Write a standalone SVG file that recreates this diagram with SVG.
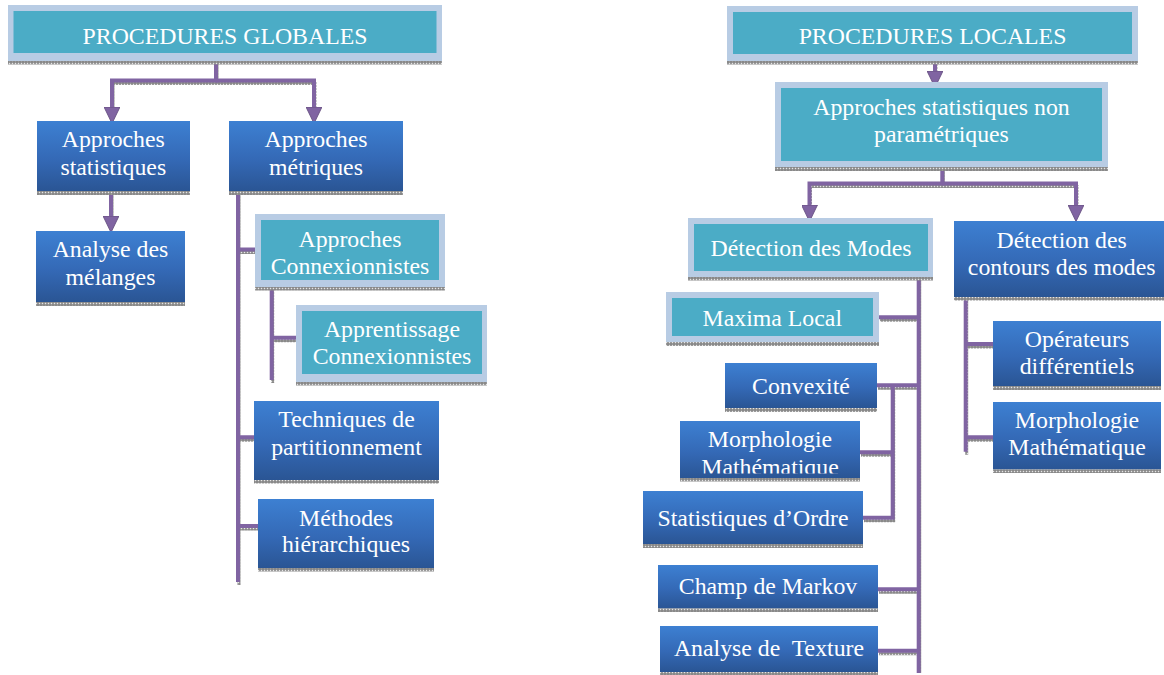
<svg xmlns="http://www.w3.org/2000/svg" width="1164" height="675" viewBox="0 0 1164 675">
<defs>
<linearGradient id="blue" x1="0" y1="0" x2="0" y2="1">
<stop offset="0" stop-color="#3d80d2"/>
<stop offset="0.55" stop-color="#3469b6"/>
<stop offset="1" stop-color="#2a5594"/>
</linearGradient>
<pattern id="hatch" width="3" height="3" patternUnits="userSpaceOnUse">
<rect width="3" height="3" fill="#9a9a9a"/>
<rect width="1" height="1" fill="#e6e6e6"/>
<rect x="1.5" y="1.5" width="1" height="1" fill="#555"/>
</pattern>
<marker id="arr" markerUnits="userSpaceOnUse" markerWidth="17" markerHeight="16" refX="5" refY="8" orient="auto" viewBox="0 0 17 16">
<path d="M0,0 L16.5,8 L0,16 z" fill="#8064a2" stroke="#5f497a" stroke-width="0.8"/>
</marker>
<clipPath id="clipmm1"><rect x="680" y="421" width="180" height="52.5"/></clipPath>
</defs>
<style>
.border{fill:#b8cce4}
.teal{fill:#4bacc6}
.blue{fill:url(#blue)}
.sh{fill:url(#hatch)}
text{font-family:"Liberation Serif","Times New Roman",serif;font-size:23.8px;fill:#ffffff;text-anchor:middle}
.con{fill:none;stroke:#8064a2;stroke-width:4}
.csh{fill:none;stroke:url(#hatch);stroke-width:3}
</style>

<g id="connectors">
<g class="shadows" transform="translate(1,3)">
<path class="csh" d="M216,61 V80.5 H112 V108 M216,80.5 H314 V108"/>
<path class="csh" d="M111,191 V218"/>
<path class="csh" d="M238,191 V582 M238,249.5 H255 M238,437.3 H254 M238,526 H258"/>
<path class="csh" d="M271.7,287 V380 M271.7,337.7 H296"/>
<path class="csh" d="M935,61 V72"/>
<path class="csh" d="M942.3,167 V183.5 H809.5 V206 M942.3,183.5 H1076 V206"/>
<path class="csh" d="M918.7,277 V670 M879,317.3 H918.7 M877,385.3 H918.7 M878,589.3 H918.7 M878,650.7 H918.7"/>
<path class="csh" d="M860,452.3 H892.7 M863,517.7 H892.7 V385.3"/>
<path class="csh" d="M965.7,297 V451.7 M965.7,344 H993 M965.7,437.3 H993"/>
</g>
<path class="con" d="M216,61 V80.5 H112 V112" marker-end="url(#arr)"/>
<path class="con" d="M216,80.5 H314 V112" marker-end="url(#arr)"/>
<path class="con" d="M111,191 V221" marker-end="url(#arr)"/>
<path class="con" d="M238,191 V582 M238,249.5 H255 M238,437.3 H254 M238,526 H258"/>
<path class="con" d="M271.7,287 V380 M271.7,337.7 H296"/>
<path class="con" d="M935,61 V76" marker-end="url(#arr)"/>
<path class="con" d="M942.3,167 V183.5 H809.5 V210" marker-end="url(#arr)"/>
<path class="con" d="M942.3,183.5 H1076 V210" marker-end="url(#arr)"/>
<path class="con" d="M918.7,277 V673 M879,317.3 H918.7 M877,385.3 H918.7 M878,589.3 H918.7 M878,650.7 H918.7"/>
<path class="con" d="M860,452.3 H892.7 M863,517.7 H892.7 V385.3"/>
<path class="con" d="M965.7,297 V451.7 M965.7,344 H993 M965.7,437.3 H993"/>
</g>

<g id="procedures-globales">
<rect class="border" x="8" y="5" width="434" height="56"/>
<rect class="teal" x="13.5" y="11" width="423" height="42"/>
<rect class="sh" x="8" y="61" width="434" height="3.5"/>
<text x="225" y="43.5">PROCEDURES GLOBALES</text>
</g>

<g id="approches-statistiques">
<rect class="blue" x="37" y="121" width="153" height="70"/>
<rect class="sh" x="37" y="191" width="153" height="4"/>
<text x="113.3" y="146.7">Approches</text>
<text x="113.3" y="174.5">statistiques</text>
</g>

<g id="approches-metriques">
<rect class="blue" x="229" y="121" width="174" height="70"/>
<rect class="sh" x="229" y="191" width="174" height="4"/>
<text x="316" y="146.7">Approches</text>
<text x="316" y="174.5">métriques</text>
</g>

<g id="analyse-melanges">
<rect class="blue" x="36" y="231" width="149" height="71"/>
<rect class="sh" x="36" y="302" width="149" height="4"/>
<text x="110.5" y="257.3">Analyse des</text>
<text x="110.5" y="285">mélanges</text>
</g>

<g id="approches-connexionnistes">
<rect class="border" x="255" y="214" width="190" height="73"/>
<rect class="teal" x="261" y="220" width="178" height="60"/>
<rect class="sh" x="255" y="287" width="190" height="3.5"/>
<text x="350" y="246.7">Approches</text>
<text x="350" y="273.5">Connexionnistes</text>
</g>

<g id="apprentissage-connexionnistes">
<rect class="border" x="296" y="305" width="191" height="77"/>
<rect class="teal" x="302" y="311" width="180" height="63"/>
<rect class="sh" x="296" y="382" width="191" height="3.5"/>
<text x="392" y="336.7">Apprentissage</text>
<text x="392" y="363.5">Connexionnistes</text>
</g>

<g id="techniques-partitionnement">
<rect class="blue" x="254" y="401" width="185" height="79"/>
<rect class="sh" x="254" y="480" width="185" height="3.5"/>
<text x="346.5" y="427.3">Techniques de</text>
<text x="346.5" y="455">partitionnement</text>
</g>

<g id="methodes-hierarchiques">
<rect class="blue" x="258" y="499" width="176" height="69"/>
<rect class="sh" x="258" y="568" width="176" height="3.5"/>
<text x="346" y="525.7">Méthodes</text>
<text x="346" y="552">hiérarchiques</text>
</g>

<g id="procedures-locales">
<rect class="border" x="727" y="6" width="411" height="55"/>
<rect class="teal" x="733" y="12" width="399" height="42"/>
<rect class="sh" x="727" y="61" width="411" height="3.5"/>
<text x="932.5" y="43.5">PROCEDURES LOCALES</text>
</g>

<g id="approches-non-parametriques">
<rect class="border" x="775" y="82" width="333" height="85"/>
<rect class="teal" x="781" y="88" width="321" height="73"/>
<rect class="sh" x="775" y="167" width="333" height="4"/>
<text x="941.5" y="115">Approches statistiques non</text>
<text x="941.5" y="141.7">paramétriques</text>
</g>

<g id="detection-modes">
<rect class="border" x="688" y="218" width="245" height="59"/>
<rect class="teal" x="694" y="224" width="234" height="47"/>
<rect class="sh" x="688" y="277" width="245" height="3.5"/>
<text x="811" y="256">Détection des Modes</text>
</g>

<g id="detection-contours">
<rect class="blue" x="954" y="221" width="215" height="76"/>
<rect class="sh" x="954" y="297" width="215" height="3.5"/>
<text x="1061.7" y="248.3">Détection des</text>
<text x="1061.7" y="275">contours des modes</text>
</g>

<g id="maxima-local">
<rect class="border" x="666" y="292" width="213" height="50"/>
<rect class="teal" x="672" y="298" width="201" height="38"/>
<rect class="sh" x="666" y="342" width="213" height="4"/>
<text x="772.3" y="326">Maxima Local</text>
</g>

<g id="convexite">
<rect class="blue" x="725" y="363" width="152" height="45"/>
<rect class="sh" x="725" y="408" width="152" height="4"/>
<text x="801" y="394">Convexité</text>
</g>

<g id="morphologie-1">
<rect class="blue" x="680" y="421" width="180" height="57"/>
<rect class="sh" x="680" y="478" width="180" height="3.5"/>
<g clip-path="url(#clipmm1)">
<text x="770" y="446.7">Morphologie</text>
<text x="770" y="474.5">Mathématique</text>
</g>
</g>

<g id="statistiques-ordre">
<rect class="blue" x="643" y="491" width="220" height="53"/>
<rect class="sh" x="643" y="544" width="220" height="4"/>
<text x="753" y="525.7">Statistiques d’Ordre</text>
</g>

<g id="champ-markov">
<rect class="blue" x="658" y="565" width="220" height="43.5"/>
<rect class="sh" x="658" y="608.5" width="220" height="3.5"/>
<text x="768" y="594.3">Champ de Markov</text>
</g>

<g id="analyse-texture">
<rect class="blue" x="660" y="626" width="218" height="46"/>
<rect class="sh" x="660" y="672" width="218" height="3"/>
<text x="769" y="656" xml:space="preserve">Analyse de  Texture</text>
</g>

<g id="operateurs-differentiels">
<rect class="blue" x="993" y="321" width="168" height="65"/>
<rect class="sh" x="993" y="386" width="168" height="4"/>
<text x="1077" y="346.7">Opérateurs</text>
<text x="1077" y="374">différentiels</text>
</g>

<g id="morphologie-2">
<rect class="blue" x="993" y="402" width="168" height="67.5"/>
<rect class="sh" x="993" y="469.5" width="168" height="3.5"/>
<text x="1077" y="428.3">Morphologie</text>
<text x="1077" y="455">Mathématique</text>
</g>
</svg>
